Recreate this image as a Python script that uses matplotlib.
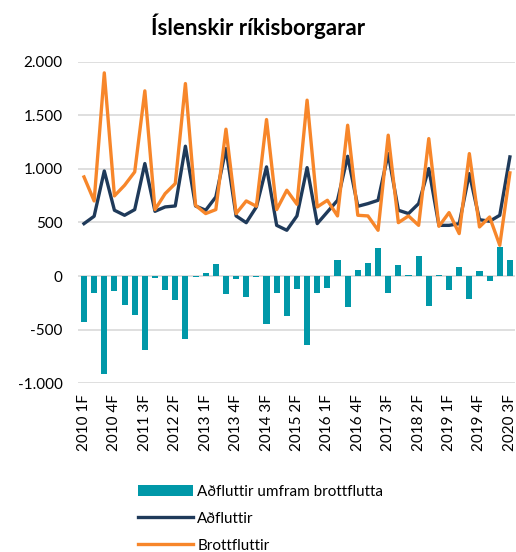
import numpy as np
import matplotlib
matplotlib.use('Agg')
import matplotlib.pyplot as plt
from matplotlib.ticker import FuncFormatter

plt.rcParams['font.family'] = ['Lato', 'DejaVu Sans']

# quarters 2010 1F .. 2020 3F
years = [2010 + i // 4 for i in range(43)]
quarters = [i % 4 + 1 for i in range(43)]
labels = ['%d %dF' % (y, q) for y, q in zip(years, quarters)]

adfluttir = [489, 558, 981, 614, 567, 620, 1050, 604, 645, 654, 1212, 654, 614, 738,
             1190, 561, 498, 645, 1019, 473, 427, 561, 1012, 489, 598, 707, 1118, 651,
             676, 707, 1143, 614, 583, 676, 1003, 473, 473, 489, 956, 526, 511, 567, 1112]
brottfluttir = [925, 701, 1897, 748, 847, 972, 1729, 620, 769, 863, 1797, 660, 583, 620,
                1371, 583, 701, 651, 1461, 620, 801, 670, 1642, 645, 707, 561, 1408, 567,
                561, 427, 1315, 498, 561, 473, 1283, 464, 592, 396, 1143, 458, 551, 287, 963]
umfram = [-430, -159, -919, -140, -274, -361, -688, -19, -128, -221, -592, -6, 28, 115,
          -171, -25, -199, -5, -445, -162, -371, -125, -642, -162, -112, 146, -290, 56,
          125, 265, -156, 100, 12, 184, -283, 6, -134, 84, -215, 44, -44, 271, 146]

teal = '#0098A8'
navy = '#1F3A5A'
orange = '#F7862A'

fig = plt.figure(figsize=(5.16, 5.52), dpi=100)
ax = fig.add_axes([0.151, 0.306, 0.847, 0.582])

x = np.arange(len(labels))
b = ax.bar(x, umfram, width=0.6, color=teal, label='Aðfluttir umfram brottflutta', zorder=2)
l1, = ax.plot(x, adfluttir, color=navy, lw=2.4, label='Aðfluttir', zorder=3)
l2, = ax.plot(x, brottfluttir, color=orange, lw=2.4, label='Brottfluttir', zorder=4)

ax.set_ylim(-1000, 2000)
ax.set_xlim(-0.6, 42.5)
ax.set_yticks(np.arange(-1000, 2001, 500))
ax.yaxis.set_major_formatter(FuncFormatter(lambda v, p: '{:,.0f}'.format(v).replace(',', '.')))
ax.set_xticks(x[::3])
ax.set_xticklabels(labels[::3], rotation=90, fontsize=11)
ax.tick_params(axis='y', labelsize=11, length=0, pad=11)
ax.tick_params(axis='x', length=0, pad=8)
ax.grid(axis='y', color='#d9d9d9', lw=1.2, zorder=0)
ax.set_axisbelow(True)
for s in ax.spines.values():
    s.set_visible(False)

fig.suptitle('Íslenskir ríkisborgarar', fontsize=16, fontweight='bold', y=0.975)

fig.legend(handles=[b, l1, l2], loc='upper left', bbox_to_anchor=(0.24, 0.147),
           frameon=False, fontsize=11, handlelength=3.6, labelspacing=0.85,
           handletextpad=0.3)

fig.savefig('out.png', dpi=100)
